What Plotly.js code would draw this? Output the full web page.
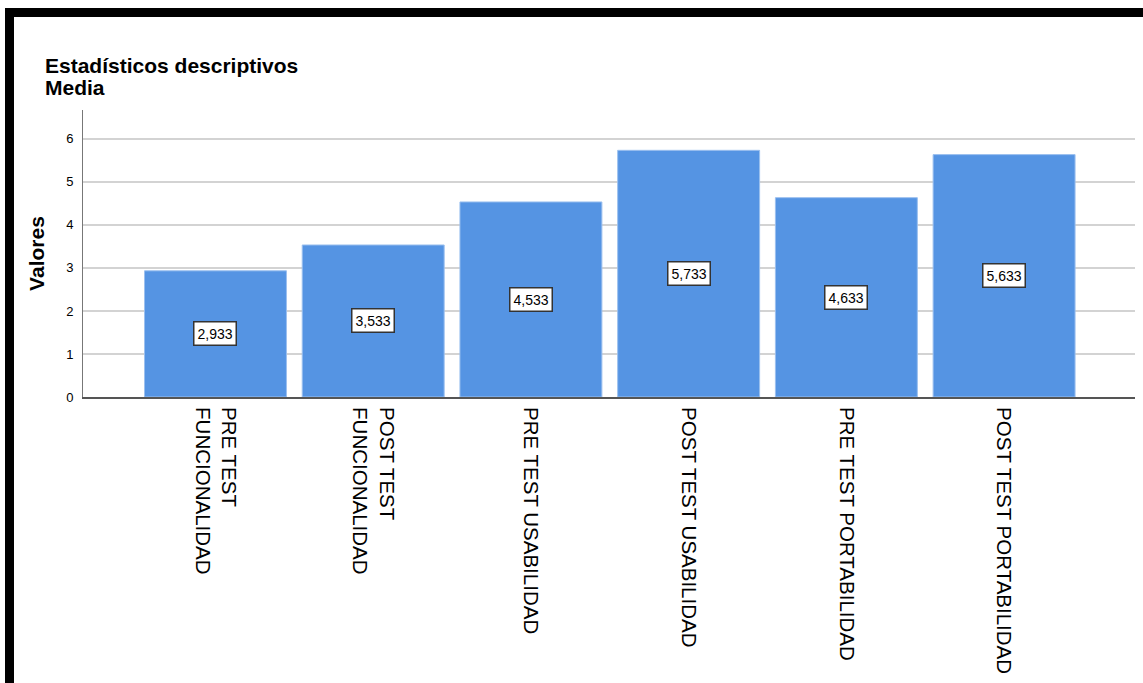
<!DOCTYPE html>
<html>
<head>
<meta charset="utf-8">
<script src="https://cdn.plot.ly/plotly-3.0.1.min.js"></script>
<style>
html,body{margin:0;padding:0;background:#fff;}
#chart{position:absolute;left:0;top:0;width:1143px;height:683px;}
#frame{position:absolute;left:5px;top:8px;width:1138px;height:675px;border-top:9px solid #000;border-left:9px solid #000;box-sizing:border-box;pointer-events:none;}
</style>
</head>
<body>
<div id="chart"></div>
<div id="frame"></div>
<script>
const categories = [
  "PRE TEST<br>FUNCIONALIDAD",
  "POST TEST<br>FUNCIONALIDAD",
  "PRE TEST USABILIDAD",
  "POST TEST USABILIDAD",
  "PRE TEST PORTABILIDAD",
  "POST TEST PORTABILIDAD"
];
const means = [2.933, 3.533, 4.533, 5.733, 4.633, 5.633];
const yTicks = [0, 1, 2, 3, 4, 5, 6];
const titleLines = ["Estadísticos descriptivos", "Media"];

const FONT = "Liberation Sans, Arial, sans-serif";
const W = 1143, H = 683;
const M = {l: 83, r: 8, t: 110, b: 286};
const plotW = W - M.l - M.r, plotH = H - M.t - M.b;
// pixel helpers for paper-positioned texts
const px2paperX = px => (px - M.l) / plotW;
const px2paperY = py => (H - M.b - py) / plotH;

const trace = {
  type: "bar",
  x: categories,
  y: means,
  marker: {color: "#5594e3", line: {color: "#9cc0ef", width: 1}},
  hoverinfo: "none"
};

const annotations = categories.map((c, i) => ({
  x: c, y: means[i] / 2, xref: "x", yref: "y",
  text: means[i].toFixed(3).replace(".", ","),
  showarrow: false,
  bgcolor: "#ffffff",
  bordercolor: "#333333",
  borderwidth: 1.5,
  borderpad: 3,
  font: {family: FONT, size: 14, color: "#000"}
}));

const titleMid = [66, 87];
titleLines.forEach((t, i) => annotations.push({
  text: "<b>" + t + "</b>",
  xref: "paper", yref: "paper",
  x: px2paperX(43), xanchor: "left",
  y: px2paperY(titleMid[i]), yanchor: "middle",
  showarrow: false,
  font: {family: FONT, size: 21, color: "#000"}
}));

const layout = {
  width: W, height: H,
  paper_bgcolor: "rgba(0,0,0,0)",
  plot_bgcolor: "rgba(0,0,0,0)",
  margin: M,
  showlegend: false,
  bargap: 0.1,
  xaxis: {
    range: [-0.84, 5.83],
    tickangle: 90,
    tickfont: {family: FONT, size: 20.5, color: "#000"},
    showgrid: false,
    showline: true, linecolor: "#555", linewidth: 2,
    ticks: "", ticklabelstandoff: 4,
    fixedrange: true
  },
  yaxis: {
    range: [0, 6.67],
    tickvals: yTicks,
    ticktext: yTicks.map(String),
    tickfont: {family: FONT, size: 13, color: "#000"},
    showgrid: true, gridcolor: "#d3d3d3", gridwidth: 1.5,
    zeroline: false,
    showline: true, linecolor: "#777", linewidth: 1,
    ticks: "", ticklabelstandoff: 6,
    title: {text: "<b>Valores</b>", font: {family: FONT, size: 21, color: "#000"}, standoff: 15},
    fixedrange: true
  },
  annotations: annotations
};

Plotly.newPlot("chart", [trace], layout, {displayModeBar: false, staticPlot: true});
</script>
</body>
</html>
